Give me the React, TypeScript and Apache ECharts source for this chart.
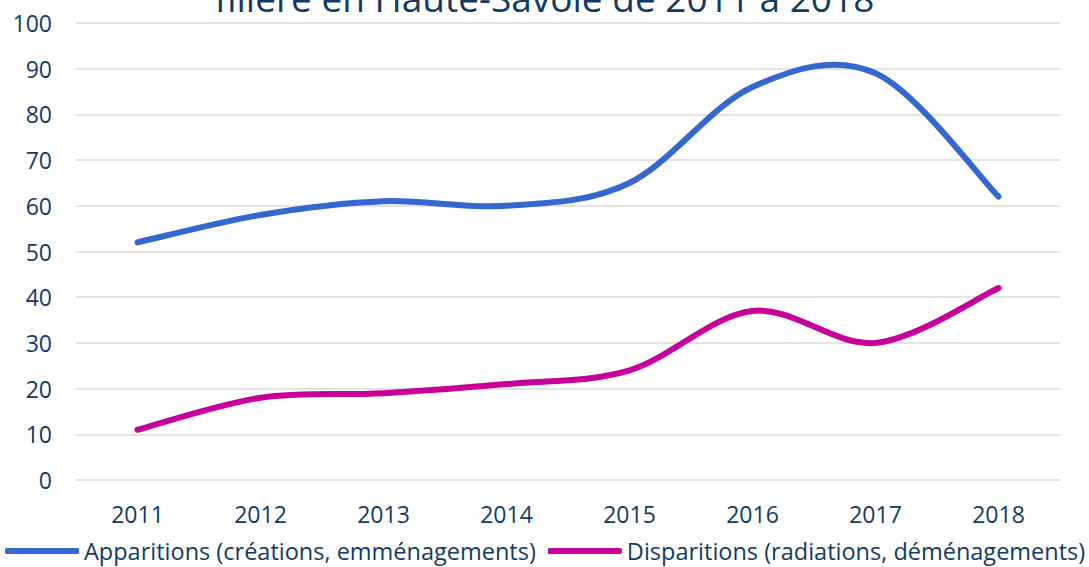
import React, { useEffect, useRef } from "react";
import * as echarts from "echarts";

const years = ["2011", "2012", "2013", "2014", "2015", "2016", "2017", "2018"];
const apparitions = [52, 58, 61, 60, 65, 86, 89, 62];
const disparitions = [11, 18, 19, 21, 24, 37, 30, 42];
const seriesNames = [
  "Apparitions (créations, emménagements)",
  "Disparitions (radiations, déménagements)",
];
const titleText = "filière en Haute-Savoie de 2011 à 2018";

const TEXT = "#123a66";
const FONT = "'Open Sans', sans-serif";
const BLUE = "#3467cf";
const MAGENTA = "#c8009b";

function smoothPath(pts: number[][]): string {
  // Catmull-Rom style bezier (Excel-like smoothing)
  let d = `M${pts[0][0]},${pts[0][1]}`;
  const n = pts.length;
  for (let i = 0; i < n - 1; i++) {
    const p0 = pts[i - 1] || pts[i];
    const p1 = pts[i];
    const p2 = pts[i + 1];
    const p3 = pts[i + 2] || pts[i + 1];
    const c1x = p1[0] + (p2[0] - p0[0]) / 6;
    const c1y = p1[1] + (p2[1] - p0[1]) / 6;
    const c2x = p2[0] - (p3[0] - p1[0]) / 6;
    const c2y = p2[1] - (p3[1] - p1[1]) / 6;
    d += ` C${c1x},${c1y} ${c2x},${c2y} ${p2[0]},${p2[1]}`;
  }
  return d;
}

function makeSeries(name: string, values: number[], color: string) {
  return {
    name,
    type: "custom",
    coordinateSystem: "cartesian2d",
    data: values.map((v, i) => [i, v]),
    encode: { x: 0, y: 1 },
    itemStyle: { color },
    renderItem: (params: any, api: any) => {
      if (params.dataIndex !== 0) return null;
      const pts = values.map((v, i) => api.coord([i, v]));
      return {
        type: "path",
        shape: { pathData: smoothPath(pts) },
        style: {
          fill: "none",
          stroke: color,
          lineWidth: 6,
          lineCap: "round",
          lineJoin: "round",
        },
      };
    },
  };
}

export default function App() {
  const ref = useRef<HTMLDivElement>(null);
  useEffect(() => {
    if (!ref.current) return;
    const chart = echarts.init(ref.current, undefined, { renderer: "svg" });
    chart.setOption({
      animation: false,
      backgroundColor: "#ffffff",
      textStyle: { fontFamily: FONT, color: TEXT },
      graphic: [
        {
          type: "text",
          left: "center",
          top: -21,
          style: {
            text: titleText,
            fontFamily: FONT,
            fontSize: 37,
            fill: TEXT,
          },
        },
      ],
      grid: { left: 76, right: 29, top: 23, bottom: 87 },
      xAxis: {
        type: "category",
        data: years,
        boundaryGap: true,
        axisLine: { show: false },
        axisTick: { show: false },
        axisLabel: { color: TEXT, fontSize: 23, fontFamily: FONT, margin: 22 },
      },
      yAxis: {
        type: "value",
        min: 0,
        max: 100,
        interval: 10,
        axisLine: { show: false },
        axisTick: { show: false },
        axisLabel: { color: TEXT, fontSize: 23, fontFamily: FONT, margin: 24 },
        splitLine: { lineStyle: { color: "#d9d9d9", width: 1.5 } },
      },
      legend: {
        left: 0,
        bottom: 0,
        width: 1089,
        padding: [0, 0, 3, 5],
        itemWidth: 74,
        itemHeight: 6,
        itemGap: 12,
        textStyle: { color: TEXT, fontSize: 23.5, fontFamily: FONT, lineHeight: 26 },
        data: [
          { name: seriesNames[0], icon: "roundRect", itemStyle: { color: BLUE } },
          { name: seriesNames[1], icon: "roundRect", itemStyle: { color: MAGENTA } },
        ],
      },
      series: [
        makeSeries(seriesNames[0], apparitions, BLUE),
        makeSeries(seriesNames[1], disparitions, MAGENTA),
      ],
    });
    return () => chart.dispose();
  }, []);
  return <div ref={ref} style={{ width: 1089, height: 567, position: "absolute", left: 0, top: 0 }} />;
}
